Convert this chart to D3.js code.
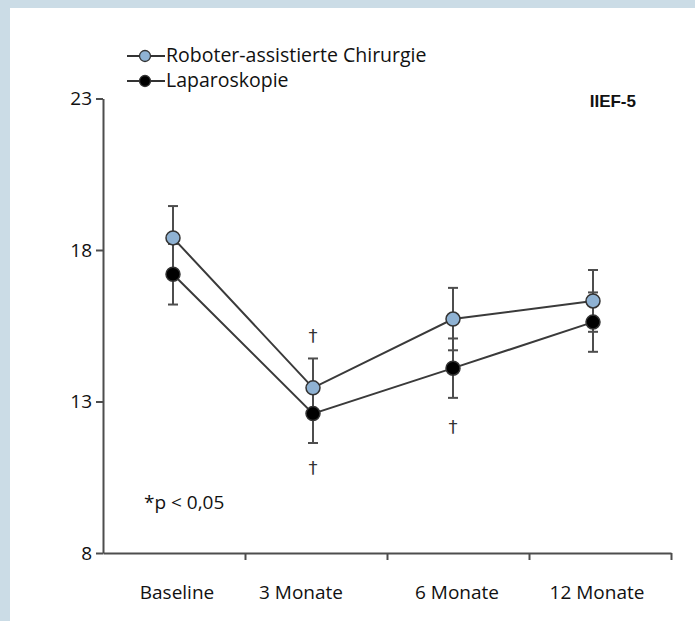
<!DOCTYPE html>
<html>
<head>
<meta charset="utf-8">
<script src="https://cdn.jsdelivr.net/npm/d3@7"></script>
<style>
  html, body { margin: 0; padding: 0; background: #fff; }
  svg { display: block; }
  text { font-family: "Open Sans", "Noto Sans", sans-serif; fill: #111; }
</style>
</head>
<body>
<svg id="chart" width="695" height="621"></svg>
<script>
const categories = ['Baseline', '3 Monate', '6 Monate', '12 Monate']
const robotMean = [18.4, 13.45, 15.72, 16.32]
const robotSd = [1.05, 0.97, 1.03, 1.02]
const lapMean = [17.2, 12.6, 14.1, 15.62]
const lapSd = [1.0, 0.97, 0.98, 0.98]
const yTicks = [8, 13, 18, 23]
// significance markers (category, value position)
const daggerCats = ['3 Monate', '3 Monate', '6 Monate']
const daggerVals = [15.2, 10.85, 12.2]

const svg = d3.select('#chart')
const W = 695, H = 621

// frame
svg.append('rect').attr('width', W).attr('height', H).attr('fill', '#cbdce6')
svg.append('rect').attr('x', 10).attr('y', 8).attr('width', W - 10).attr('height', H - 8).attr('fill', '#fff')

const plotLeft = 103, plotRight = 671, plotTop = 98.5, plotBottom = 553
const y = d3.scaleLinear().domain([8, 23]).range([plotBottom, plotTop])
const xAxisScale = d3.scaleLinear().domain([0, 4]).range([plotLeft, plotRight])
const x = d3.scalePoint().domain(categories).range([173, 593])

const axisColor = '#4d4d4d'

// y axis
const yAxis = d3.axisLeft(y).tickValues(yTicks).tickSize(7).tickSizeOuter(0).tickPadding(4)
const gy = svg.append('g').attr('transform', `translate(${plotLeft},0)`).call(yAxis)
gy.select('.domain').attr('stroke', axisColor).attr('stroke-width', 2)
gy.selectAll('.tick line').attr('stroke', axisColor).attr('stroke-width', 2)
gy.selectAll('.tick text').style('font-family', '"Open Sans", sans-serif')
    .style('font-size', '19px').attr('fill', '#111')

// x axis (ticks at category boundaries)
const xAxis = d3.axisBottom(xAxisScale).tickValues([1, 2, 3, 4]).tickSize(7).tickSizeOuter(0).tickFormat('')
const gx = svg.append('g').attr('transform', `translate(0,${plotBottom})`).call(xAxis)
gx.select('.domain').attr('stroke', axisColor).attr('stroke-width', 2)
gx.selectAll('.tick line').attr('stroke', axisColor).attr('stroke-width', 2)

svg.append('g').selectAll('text').data(categories).join('text')
    .attr('x', d => x(d) + (d === '3 Monate' ? -12 : 4))
    .attr('y', 599)
    .attr('text-anchor', 'middle')
    .style('font-size', '19px')
    .text(d => d)

const series = [
    { mean: robotMean, sd: robotSd, fill: '#8fb2d3' },
    { mean: lapMean, sd: lapSd, fill: '#000' },
]

// error bars
series.forEach(s => {
    const g = svg.append('g')
    categories.forEach((c, i) => {
        const hi = y(s.mean[i] + s.sd[i]), lo = y(s.mean[i] - s.sd[i])
        g.append('line').attr('x1', x(c)).attr('x2', x(c)).attr('y1', hi).attr('y2', lo)
            .attr('stroke', axisColor).attr('stroke-width', 2)
        ;[hi, lo].forEach(v => g.append('line')
            .attr('x1', x(c) - 5).attr('x2', x(c) + 5).attr('y1', v).attr('y2', v)
            .attr('stroke', axisColor).attr('stroke-width', 2))
    })
})

// lines + points
const line = d3.line().x((d, i) => x(categories[i])).y(d => y(d))
series.forEach(s => {
    svg.append('path').datum(s.mean).attr('d', line)
        .attr('fill', 'none').attr('stroke', '#3a3a3a').attr('stroke-width', 2)
})
series.slice().reverse().forEach(s => {
    svg.append('g').selectAll('circle').data(s.mean).join('circle')
        .attr('cx', (d, i) => x(categories[i]))
        .attr('cy', d => y(d))
        .attr('r', 7)
        .attr('fill', s.fill)
        .attr('stroke', '#333').attr('stroke-width', 1.5)
})

// daggers
svg.append('g').selectAll('text').data(daggerVals).join('text')
    .attr('x', (d, i) => x(daggerCats[i]))
    .attr('y', d => y(d) + 7)
    .attr('text-anchor', 'middle')
    .style('font-family', '"DejaVu Sans", sans-serif')
    .style('font-size', '18px')
    .style('fill', '#333')
    .text('\u2020')

// legend
const legend = svg.append('g')
const legItems = [
    { label: 'Roboter-assistierte Chirurgie', fill: '#8fb2d3', y: 56 },
    { label: 'Laparoskopie', fill: '#000', y: 81 },
]
legItems.forEach(l => {
    legend.append('line').attr('x1', 127).attr('x2', 165).attr('y1', l.y).attr('y2', l.y)
        .attr('stroke', '#333').attr('stroke-width', 2)
    legend.append('circle').attr('cx', 145).attr('cy', l.y).attr('r', 5.5)
        .attr('fill', l.fill).attr('stroke', '#333').attr('stroke-width', 1.3)
    legend.append('text').attr('x', 166).attr('y', l.y + 6).style('font-size', '19.5px').text(l.label)
})

svg.append('text').attr('x', 636).attr('y', 107).attr('text-anchor', 'end')
    .style('font-family', '"Liberation Sans", Arial, sans-serif')
    .style('font-weight', 'bold').style('font-size', '17px').text('IIEF-5')

svg.append('text').attr('x', 144).attr('y', 509).style('font-size', '19px').text('*p < 0,05')
</script>
</body>
</html>
